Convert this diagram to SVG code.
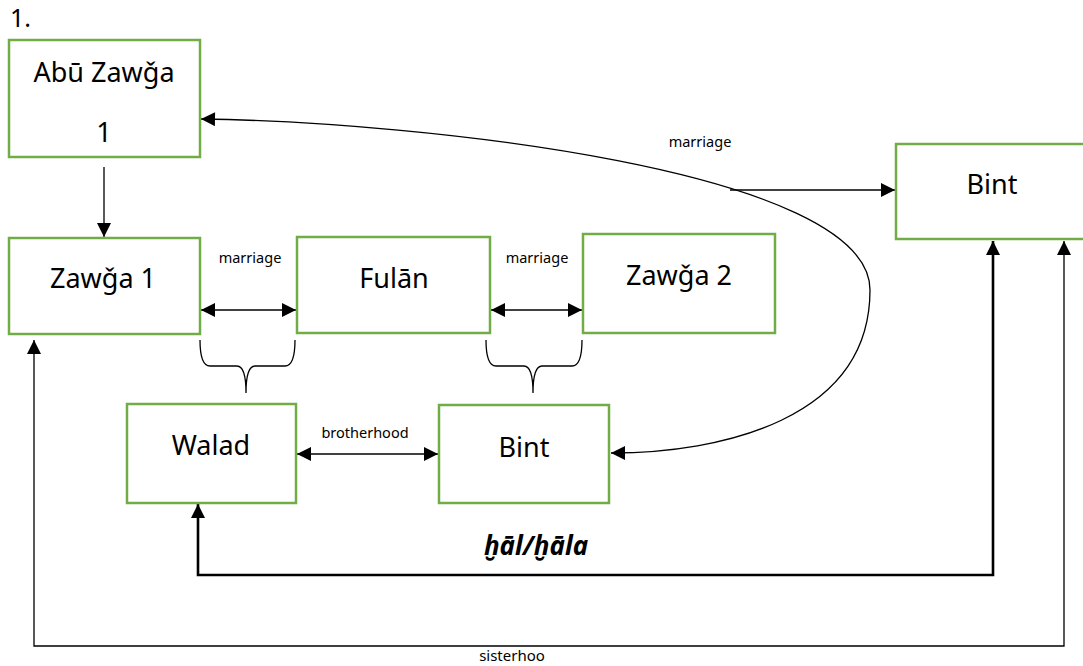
<svg xmlns="http://www.w3.org/2000/svg" width="1083" height="666" viewBox="0 0 1083 666">
<style>
.box{fill:#fff;stroke:#70AD47;stroke-width:2.5}
.t{font-family:"Noto Sans","Open Sans","DejaVu Sans",sans-serif;font-size:27px;fill:#000;text-anchor:middle}
.s{font-family:"Noto Sans","Open Sans","DejaVu Sans",sans-serif;font-size:14.5px;fill:#000;text-anchor:middle}
.ln{fill:none;stroke:#000;stroke-width:1.3}
.thick{fill:none;stroke:#000;stroke-width:2.6}
</style>
<defs>
<marker id="ah" viewBox="0 0 10 10" refX="10" refY="5" markerWidth="15" markerHeight="14" markerUnits="userSpaceOnUse" orient="auto-start-reverse">
<path d="M0,0 L10,5 L0,10 z" fill="#000"/>
</marker>
</defs>
<rect width="1083" height="666" fill="#fff"/>
<text x="10" y="27" style="font-family:'Noto Sans','Open Sans',sans-serif;font-size:25px">1.</text>

<g id="connectors">
<line class="ln" x1="104" y1="167" x2="104" y2="237" marker-end="url(#ah)"/>
<line class="ln" x1="201" y1="310" x2="296" y2="310" marker-start="url(#ah)" marker-end="url(#ah)"/>
<line class="ln" x1="491" y1="310" x2="582" y2="310" marker-start="url(#ah)" marker-end="url(#ah)"/>
<line class="ln" x1="297" y1="454" x2="438" y2="454" marker-start="url(#ah)" marker-end="url(#ah)"/>
<path class="ln" d="M201,119 C420,122 870,170 870,290 C870,420 720,453 611,453" marker-start="url(#ah)" marker-end="url(#ah)"/>
<line class="ln" x1="730" y1="190" x2="895" y2="190" marker-end="url(#ah)"/>
<path class="ln" d="M200,340 Q200,366 210,366 L237,366 Q246,366 246,393 Q246,366 255,366 L285,366 Q295,366 295,340"/>
<path class="ln" d="M486,340 Q486,366 496,366 L524,366 Q533,366 533,393 Q533,366 542,366 L572,366 Q582,366 582,340"/>
<path class="thick" d="M993,241 L993,575 L198,575 L198,504" marker-start="url(#ah)" marker-end="url(#ah)"/>
<path class="ln" d="M1064,241 L1064,646 L34,646 L34,340" marker-start="url(#ah)" marker-end="url(#ah)"/>
</g>

<g id="labels">
<text class="s" x="250" y="263">marriage</text>
<text class="s" x="537" y="263">marriage</text>
<text class="s" x="700" y="147">marriage</text>
<text class="s" x="365" y="438">brotherhood</text>
<text class="s" x="512" y="661" style="font-size:15px">sisterhoo</text>
<text x="536" y="555" style="font-family:'Noto Sans','Open Sans',sans-serif;font-size:26px;font-weight:bold;font-style:italic;text-anchor:middle">ḫāl/ḫāla</text>
</g>

<g id="abu-zawga-1">
<rect class="box" x="9" y="40" width="191" height="117"/>
<text class="t" x="104" y="82">Abū Zawǧa</text>
<text class="t" x="104" y="142">1</text>
</g>
<g id="zawga-1">
<rect class="box" x="9" y="238" width="191" height="96"/>
<text class="t" x="103" y="288">Zawǧa 1</text>
</g>
<g id="fulan">
<rect class="box" x="297" y="237" width="193" height="96"/>
<text class="t" x="394" y="288">Fulān</text>
</g>
<g id="zawga-2">
<rect class="box" x="583" y="234" width="192" height="99"/>
<text class="t" x="679" y="285">Zawǧa 2</text>
</g>
<g id="walad">
<rect class="box" x="127" y="404" width="169" height="99"/>
<text class="t" x="211" y="455">Walad</text>
</g>
<g id="bint-middle">
<rect class="box" x="439" y="405" width="170" height="98"/>
<text class="t" x="524" y="457">Bint</text>
</g>
<g id="bint-right">
<rect class="box" x="896" y="144" width="220" height="95"/>
<text class="t" x="992" y="194">Bint</text>
</g>
</svg>
